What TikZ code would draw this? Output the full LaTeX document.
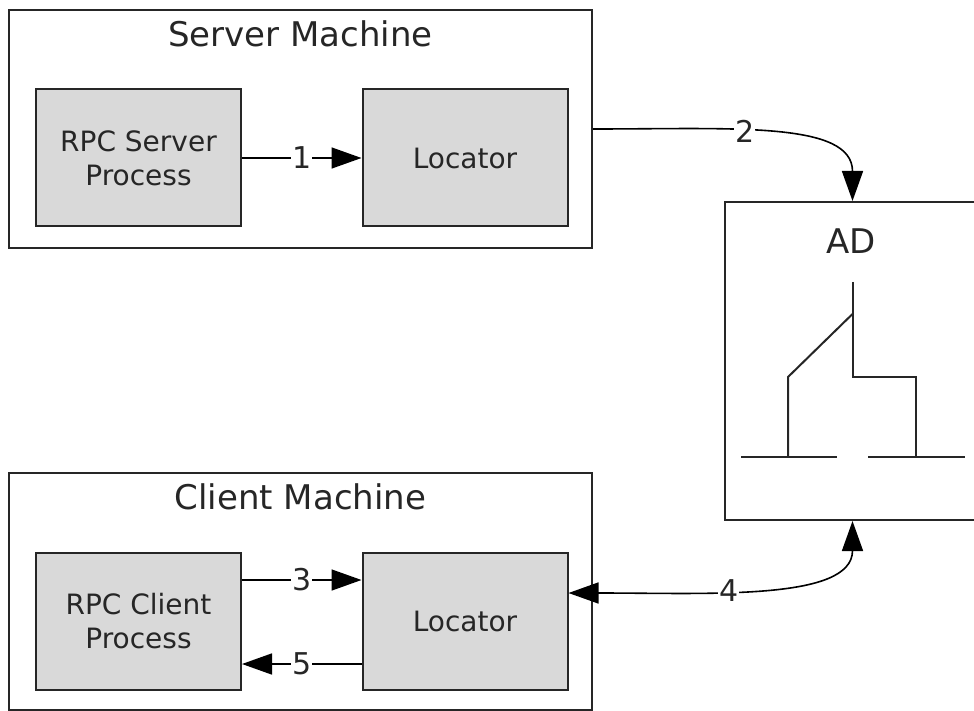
\documentclass[tikz,border=0pt]{standalone}
\usepackage{fontspec}
\setmainfont{DejaVu Sans}
\usetikzlibrary{arrows.meta}

\begin{document}
\begin{tikzpicture}[x=1pt,y=-1pt,text=black!85,
  machine/.style={draw=black!85,line width=2pt,minimum width=583pt,minimum height=238pt},
  process/.style={draw=black!85,fill=black!15,line width=2pt,minimum width=205pt,minimum height=137pt,align=center,font=\fontsize{28}{34}\selectfont},
  title/.style={inner sep=0pt,font=\fontsize{34}{40}\selectfont},
  icon/.style={draw=black!85,line width=2pt},
  flow/.style={line width=1.6pt,-{Triangle[length=30pt,width=21pt]}},
  both/.style={line width=1.6pt,{Triangle[length=30pt,width=21pt]}-{Triangle[length=30pt,width=21pt]}},
  num/.style={fill=white,inner sep=1pt,font=\fontsize{30}{34}\selectfont}]
 \useasboundingbox (0,0) rectangle (974,711);

 % server side
 \node[machine] (srv) at (300.5,129) {};
 \node[title] (srvtitle) at ([yshift=-25pt]srv.north) {Server Machine};
 \node[process] (sproc) at (138.5,158) {RPC Server\\Process};
 \node[process] (sloc) at (465,158) {Locator};

 % client side
 \node[machine,minimum height=237pt] (cli) at (300.5,591) {};
 \node[title] (clititle) at ([yshift=-25pt]cli.north) {Client Machine};
 \node[process] (cproc) at (138.5,621) {RPC Client\\Process};
 \node[process] (cloc) at (465,621) {Locator};

 % directory
 \node[draw=black!85,line width=2pt,minimum width=255pt,minimum height=318pt] (ad) at (852.5,361) {};
 \node[title] (adtitle) at (851,241) {AD};
 \draw[icon] (852.5,282) -- (852.5,377) -- (916,377) -- (916,457);
 \draw[icon] (852.5,314) -- (788,377) -- (788,457);
 \draw[icon] (741,457) -- (837,457);
 \draw[icon] (868,457) -- (965,457);

 % messages
 \draw[flow] (sproc) -- node[num]{1} (sloc);
 \draw[flow] (srv.east) .. controls +(140,0) and +(0,-80) .. node[num,pos=0.4]{2} (ad.north);
 \draw[flow] ([yshift=41pt]cproc.east) -- node[num]{3} ([yshift=41pt]cloc.west);
 \draw[both] (ad.south) .. controls +(0,80) and +(140,0) .. node[num,pos=0.6]{4} ([yshift=28pt]cloc.east);
 \draw[flow] ([yshift=-43pt]cloc.west) -- node[num]{5} ([yshift=-43pt]cproc.east);
\end{tikzpicture}
\end{document}
